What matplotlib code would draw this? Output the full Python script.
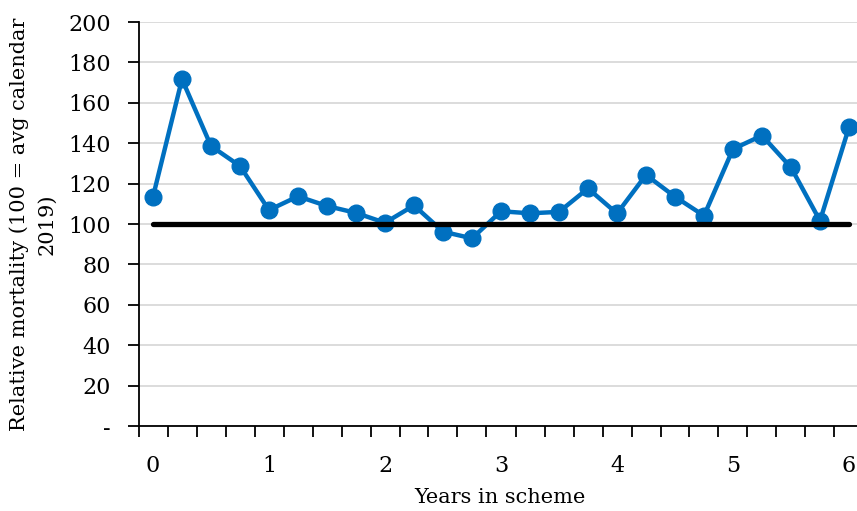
import matplotlib
matplotlib.use("Agg")
import matplotlib.pyplot as plt
import numpy as np

years = [0, 0.25, 0.5, 0.75, 1, 1.25, 1.5, 1.75, 2, 2.25, 2.5, 2.75, 3,
         3.25, 3.5, 3.75, 4, 4.25, 4.5, 4.75, 5, 5.25, 5.5, 5.75, 6]
mortality = [113.5, 171.7, 138.6, 128.7, 106.9, 113.7, 108.9, 105.5, 100.6,
             109.2, 96.2, 92.9, 106.3, 105.3, 106.0, 117.6, 105.2, 124.3,
             113.5, 104.1, 137.1, 143.8, 128.0, 101.6, 147.9]
baseline = [100] * len(years)
x_labels = ["0", "1", "2", "3", "4", "5", "6"]
y_ticks = [0, 20, 40, 60, 80, 100, 120, 140, 160, 180, 200]
y_labels = ["-"] + [str(v) for v in y_ticks[1:]]

plt.rcParams['font.family'] = ['DejaVu Serif']
W, H = 857, 511
fig = plt.figure(figsize=(W / 100, H / 100), dpi=100)
ax = fig.add_axes([138.5 / W, (H - 426) / H, 725 / W, 404 / H])

ax.plot(years, mortality, color="#0070C0", linewidth=3.2, marker="o",
        markersize=12, zorder=3)
ax.plot(years, baseline, color="black", linewidth=3.8, zorder=4,
        solid_capstyle="round")

ax.set_xlim(-0.125, 6.125)
ax.set_ylim(0, 200)
ax.set_yticks(y_ticks)
ax.set_yticklabels(y_labels)
ax.set_xticks(np.arange(-0.125, 6.2, 0.25))
ax.set_xticklabels([])
ax.set_xticks([0, 1, 2, 3, 4, 5, 6], minor=True)
ax.set_xticklabels(x_labels, minor=True)
ax.tick_params(axis="x", which="minor", length=0, pad=21, labelsize=16)
ax.tick_params(axis="x", which="major", length=8, width=1.3, direction="out")
ax.tick_params(axis="y", length=8, width=1.3, direction="out", labelsize=16, pad=12)

ax.grid(axis="y", color="#D9D9D9", linewidth=1.3)
ax.set_axisbelow(True)
for s in ["top", "right"]:
    ax.spines[s].set_visible(False)
for s in ["left", "bottom"]:
    ax.spines[s].set_linewidth(1.3)

ax.set_ylabel("Relative mortality (100 = avg calendar\n2019)", fontsize=15,
              linespacing=1.6)
ax.yaxis.set_label_coords(-(138.5 - 9) / 725, 0.5)
ax.yaxis.label.set_verticalalignment("top")
ax.set_xlabel("Years in scheme", fontsize=15)
ax.xaxis.set_label_coords((500 - 138.5) / 725, -(497 - 426) / 404)
ax.xaxis.label.set_verticalalignment("center")

fig.savefig("out.png", dpi=100)
